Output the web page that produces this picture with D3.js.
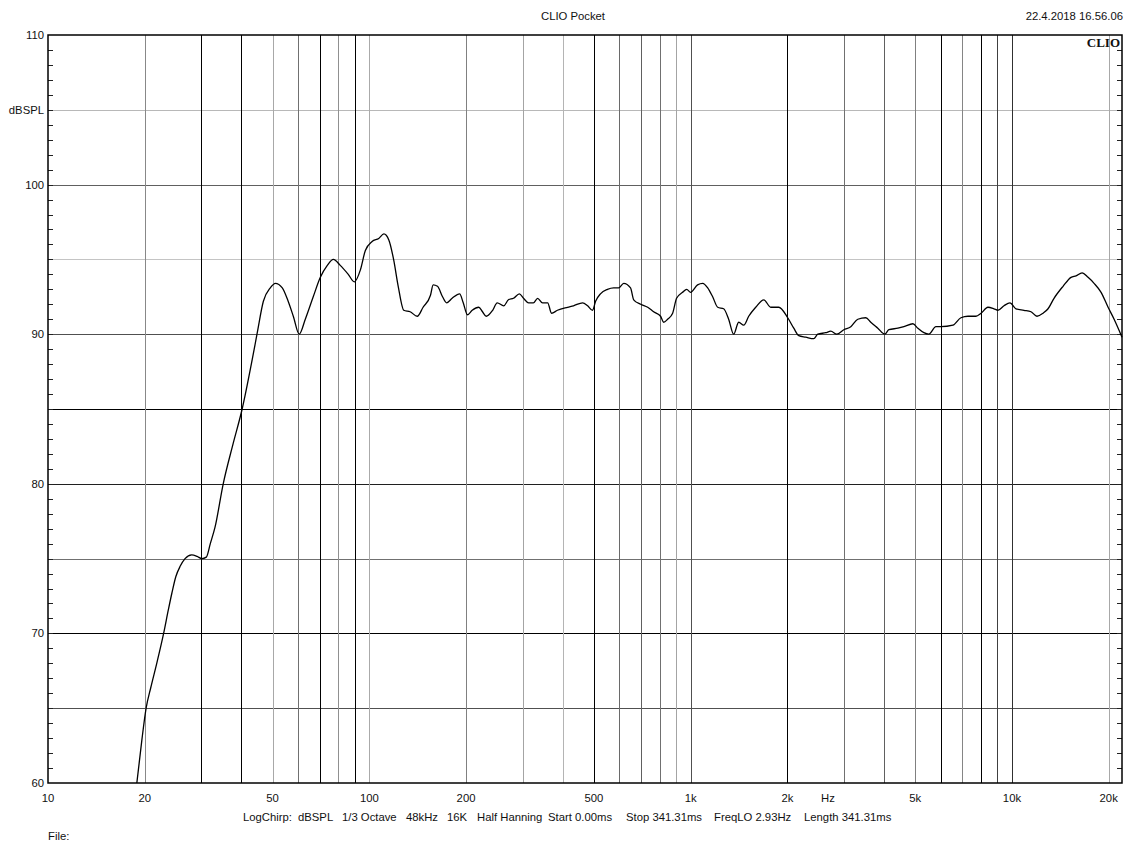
<!DOCTYPE html>
<html><head><meta charset="utf-8">
<script src="https://cdn.jsdelivr.net/npm/d3@7"></script>
<style>
body{margin:0;background:#fff;}
text{font-family:"Liberation Sans",Arial,sans-serif;font-size:11.3px;fill:#111;}
</style></head>
<body><svg id="c" width="1144" height="854"></svg>
<script>
// ---- data ----
const freqHz = [18.9,19.6,20.2,20.9,21.8,22.9,23.7,24.3,25.0,25.8,26.7,28.0,29.1,30.1,31.1,32.0,33.1,35.1,37.7,40.2,43.2,44.8,46.8,49.2,51.0,53.6,55.9,58.0,60.5,63.2,66.9,70.4,74.0,77.3,81.2,86.0,89.8,93.8,97.2,102,107,111,115,119,123,128,134,141,147,155,158,163,169,174,181,191,196,202,209,219,225,231,242,250,262,271,281,293,302,313,324,334,346,359,369,385,414,432,461,478,495,506,524,551,576,597,619,650,665,699,735,767,806,824,848,879,904,944,972,1000,1051,1090,1130,1171,1214,1267,1313,1361,1411,1463,1516,1594,1689,1775,1880,2005,2094,2170,2282,2417,2487,2634,2730,2850,2997,3151,3313,3509,3636,3824,4022,4139,4415,4609,4916,5095,5320,5513,5798,6009,6551,6936,7295,7725,8009,8418,8789,9045,9443,9858,10291,10900,11460,11965,12492,12950,13516,14418,15270,15828,16524,17251,18011,18939,19914,20791,22000];
const splDb = [60.0,62.9,65.0,66.4,68.0,70.0,71.6,72.7,73.8,74.5,75.0,75.25,75.15,75.0,75.1,76.0,77.1,80.0,82.7,85.0,88.3,90.1,92.2,93.1,93.4,93.1,92.2,91.2,90.0,91.0,92.5,93.8,94.6,95.0,94.6,94.0,93.5,94.3,95.6,96.2,96.4,96.7,96.3,95.0,93.2,91.6,91.5,91.2,91.8,92.6,93.3,93.2,92.5,92.1,92.4,92.7,92.1,91.3,91.6,91.8,91.5,91.2,91.6,92.1,91.9,92.3,92.4,92.7,92.4,92.1,92.1,92.4,92.1,92.1,91.4,91.6,91.8,91.9,92.1,91.9,91.6,92.2,92.7,93.0,93.1,93.1,93.4,93.1,92.3,92.0,91.8,91.5,91.2,90.8,91.0,91.4,92.4,92.8,93.0,92.8,93.3,93.4,93.1,92.5,91.8,91.7,91.0,90.0,90.8,90.6,91.2,91.8,92.3,91.8,91.8,91.1,90.4,89.9,89.8,89.7,90.0,90.1,90.2,90.0,90.3,90.5,91.0,91.1,90.8,90.4,90.0,90.3,90.4,90.5,90.7,90.4,90.1,90.0,90.5,90.5,90.6,91.1,91.2,91.2,91.4,91.8,91.7,91.6,91.9,92.1,91.7,91.6,91.5,91.2,91.4,91.7,92.4,93.2,93.8,93.9,94.1,93.8,93.4,92.8,91.8,91.0,89.8];
const xGrid = [20,30,40,50,60,70,80,90,100,200,300,400,500,600,700,800,900,1000,2000,3000,4000,5000,6000,7000,8000,9000,10000,20000];
const xGridShade = ["#888","#000","#000","#a8a8a8","#707070","#000","#909090","#000","#aaa","#808080","#a4a4a4","#b4b4b4","#000","#6a6a6a","#606060","#707070","#a4a4a4","#505050","#000","#707070","#606060","#808080","#000","#858585","#000","#404040","#303030","#a8a8a8"];
const xTickVals = [10,20,50,100,200,500,1000,2000,5000,10000,20000];
const xTickLabels = ["10","20","50","100","200","500","1k","2k","5k","10k","20k"];
const yGrid = [105,100,95,90,85,80,75,70,65];
const yGridShade = ["#b8b8b8","#606060","#c4c4c4","#505050","#000","#202020","#707070","#000","#505050"];
const yTickVals = [110,100,90,80,70,60];
const footerItems = ["LogChirp:","dBSPL","1/3 Octave","48kHz","16K","Half Hanning","Start 0.00ms","Stop 341.31ms","FreqLO 2.93Hz","Length 341.31ms"];
const footerX = [243,298,342,406,447,477,548,626,714,804];

// ---- layout ----
const L=48,R=1122,T=35,B=783;
const svg=d3.select("#c");
const x=d3.scaleLog().domain([10,22000]).range([L,R]);
const y=d3.scaleLinear().domain([60,110]).range([B,T]);

// grid
svg.append("g").selectAll("line").data(yGrid).join("line")
  .attr("x1",L).attr("x2",R).attr("y1",d=>Math.round(y(d))+0.5).attr("y2",d=>Math.round(y(d))+0.5)
  .attr("stroke",(d,i)=>yGridShade[i]).attr("stroke-width",1);
svg.append("g").selectAll("line").data(xGrid).join("line")
  .attr("y1",T).attr("y2",B).attr("x1",d=>Math.round(x(d))+0.5).attr("x2",d=>Math.round(x(d))+0.5)
  .attr("stroke",(d,i)=>xGridShade[i]).attr("stroke-width",1);

// minor ticks (1 dB) on left and right
const minor=d3.range(61,110);
svg.append("g").selectAll("line").data(minor).join("line")
  .attr("x1",L).attr("x2",L+5).attr("y1",d=>Math.round(y(d))+0.5).attr("y2",d=>Math.round(y(d))+0.5)
  .attr("stroke","#222");
svg.append("g").selectAll("line").data(minor).join("line")
  .attr("x1",R-5).attr("x2",R).attr("y1",d=>Math.round(y(d))+0.5).attr("y2",d=>Math.round(y(d))+0.5)
  .attr("stroke","#222");

// frame
svg.append("rect").attr("x",L).attr("y",T).attr("width",R-L).attr("height",B-T)
  .attr("fill","none").attr("stroke","#000").attr("stroke-width",1.5);

// curve
const line=d3.line().x((d,i)=>x(freqHz[i])).y(d=>y(d)).curve(d3.curveMonotoneX);
svg.append("path").datum(splDb).attr("d",line).attr("fill","none")
  .attr("stroke","#000").attr("stroke-width",1.3);

// y labels
svg.append("g").selectAll("text").data(yTickVals).join("text")
  .attr("x",44).attr("y",d=>y(d)+4).attr("text-anchor","end").text(d=>d);
svg.append("text").attr("x",44).attr("y",y(105)+4).attr("text-anchor","end").text("dBSPL");

// x labels
svg.append("g").selectAll("text").data(xTickVals).join("text")
  .attr("x",d=>x(d)).attr("y",802).attr("text-anchor","middle").text((d,i)=>xTickLabels[i]);
svg.append("text").attr("x",828).attr("y",802).attr("text-anchor","middle").text("Hz");

// titles
svg.append("text").attr("x",573).attr("y",20).attr("text-anchor","middle").text("CLIO Pocket");
svg.append("text").attr("x",1123).attr("y",20).attr("text-anchor","end").text("22.4.2018 16.56.06");
svg.append("text").attr("x",1120).attr("y",47).attr("text-anchor","end")
  .style("font-family","'Liberation Serif','DejaVu Serif',serif").style("font-weight","bold").style("font-size","13px").text("CLIO");

// footer
svg.append("g").selectAll("text").data(footerItems).join("text")
  .attr("x",(d,i)=>footerX[i]).attr("y",821).text(d=>d);
svg.append("text").attr("x",48).attr("y",840).text("File:");
</script></body></html>
